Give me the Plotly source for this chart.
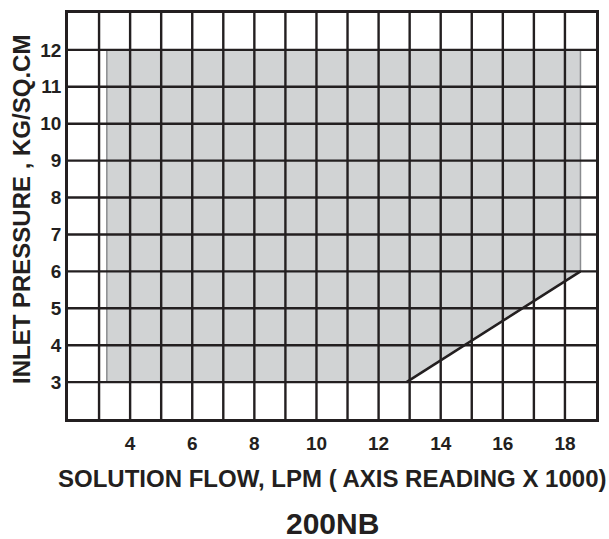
import plotly.graph_objects as go

# Operating envelope (solution flow x1000 LPM, inlet pressure kg/sq.cm)
flow = [3.25, 3.25, 18.5, 18.5, 12.9, 3.25]
pressure = [3, 12, 12, 6, 3, 3]

# Boundary segment drawn in black (from min-pressure corner up to max flow)
edge_flow = [12.9, 18.5]
edge_pressure = [3, 6]

x_ticks = [4, 6, 8, 10, 12, 14, 16, 18]
y_ticks = [3, 4, 5, 6, 7, 8, 9, 10, 11, 12]
x_grid = list(range(3, 19))
y_grid = list(range(3, 13))
x_range = [2, 19]
y_range = [2, 13]

INK = "#231f20"
FONT = "Liberation Sans"

fig = go.Figure()
fig.add_trace(go.Scatter(
    x=flow, y=pressure, mode="lines", fill="toself",
    fillcolor="#d1d3d4", line=dict(color="#8a8c8f", width=1.5),
    hoverinfo="skip", showlegend=False))
fig.add_trace(go.Scatter(
    x=edge_flow, y=edge_pressure, mode="lines",
    line=dict(color=INK, width=2.5), hoverinfo="skip", showlegend=False))

for gx in x_grid:
    fig.add_vline(x=gx, line=dict(color=INK, width=2.4), layer="above")
for gy in y_grid:
    fig.add_hline(y=gy, line=dict(color=INK, width=2.4), layer="above")

fig.update_xaxes(
    range=x_range, tickvals=x_ticks, ticktext=[str(v) for v in x_ticks],
    showgrid=False, zeroline=False, showline=True, mirror=True,
    linecolor=INK, linewidth=2.8,
    ticks="outside", ticklen=5, tickcolor="rgba(0,0,0,0)",
    tickfont=dict(family=FONT, size=19, color=INK, weight="bold"))
fig.update_yaxes(
    range=y_range, tickvals=y_ticks, ticktext=[str(v) for v in y_ticks],
    showgrid=False, zeroline=False, showline=True, mirror=True,
    linecolor=INK, linewidth=2.8,
    ticks="",
    tickfont=dict(family=FONT, size=19, color=INK, weight="bold"))

fig.add_annotation(
    text="SOLUTION FLOW, LPM ( AXIS READING X 1000)",
    xref="paper", yref="paper", x=0.5, y=0, xanchor="center", yanchor="middle",
    yshift=-59, showarrow=False,
    font=dict(family=FONT, size=24, color=INK, weight="bold"))
fig.add_annotation(
    text="200NB",
    xref="paper", yref="paper", x=0.5, y=0, xanchor="center", yanchor="middle",
    yshift=-104, showarrow=False,
    font=dict(family=FONT, size=30, color=INK, weight="bold"))
fig.add_annotation(
    text="INLET PRESSURE , KG/SQ.CM",
    xref="paper", yref="paper", x=0, y=0.5, xanchor="center", yanchor="middle",
    xshift=-47, yshift=6, textangle=-90, showarrow=False,
    font=dict(family=FONT, size=24, color=INK, weight="bold"))

fig.update_layout(
    width=609, height=539,
    margin=dict(l=68, r=10, t=10, b=120),
    paper_bgcolor="white", plot_bgcolor="white",
)

fig.write_html(
    "out.html",
    config={"displayModeBar": False},
    post_script="document.body.style.margin='0';document.body.style.overflow='hidden';",
)
